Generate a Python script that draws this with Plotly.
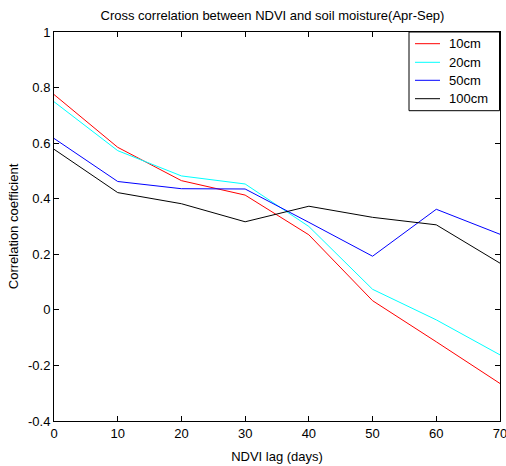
import plotly.graph_objects as go

# NDVI lag in days
lag_days = [0, 10, 20, 30, 40, 50, 60, 70]

# Cross-correlation coefficients per soil depth
corr_10cm = [0.775, 0.585, 0.465, 0.413, 0.27, 0.033, -0.115, -0.265]
corr_20cm = [0.749, 0.573, 0.482, 0.453, 0.30, 0.074, -0.036, -0.162]
corr_50cm = [0.617, 0.462, 0.436, 0.435, 0.315, 0.193, 0.362, 0.272]
corr_100cm = [0.578, 0.422, 0.382, 0.317, 0.373, 0.333, 0.306, 0.168]

series_names = ["10cm", "20cm", "50cm", "100cm"]
series_colors = ["#ff0000", "#00ffff", "#0000ff", "#000000"]
series_values = [corr_10cm, corr_20cm, corr_50cm, corr_100cm]

x_ticks = [0, 10, 20, 30, 40, 50, 60, 70]
y_ticks = [-0.4, -0.2, 0, 0.2, 0.4, 0.6, 0.8, 1]
y_tick_text = ["-0.4", "-0.2", "0", "0.2", "0.4", "0.6", "0.8", "1"]

font_family = "Liberation Sans, Arial, sans-serif"
font_size = 13

W, H = 506, 466
M_L, M_R, M_T, M_B = 54, 6, 32, 45
PW, PH = W - M_L - M_R, H - M_T - M_B


def px_x(px):
    """Pixel column -> paper x."""
    return (px - M_L) / PW


def px_y(py):
    """Pixel row -> paper y."""
    return (H - M_B - py) / PH


fig = go.Figure()
for name, color, vals in zip(series_names, series_colors, series_values):
    fig.add_trace(go.Scatter(
        x=lag_days, y=vals, mode="lines", name=name,
        line=dict(color=color, width=1), showlegend=False,
    ))

axis_common = dict(
    showgrid=False, zeroline=False,
    showline=True, linecolor="#000000", linewidth=1, mirror="ticks",
    ticks="inside", ticklen=5, tickcolor="#000000", tickwidth=1,
    tickfont=dict(family=font_family, size=font_size, color="#000000"),
    ticklabeloverflow="allow", automargin=False,
)

# Boxed legend in the upper-right corner of the axes
legend_box = dict(x0=409, x1=499.5, y0=32, y1=110.7)
legend_rows = [43.7, 62.3, 80.3, 98.7]
shapes = [dict(
    type="rect", xref="paper", yref="paper",
    x0=px_x(legend_box["x0"]), x1=px_x(legend_box["x1"]),
    y0=px_y(legend_box["y1"]), y1=px_y(legend_box["y0"]),
    line=dict(color="#000000", width=1), fillcolor="#ffffff", layer="above",
)]
annotations = []
for name, color, row in zip(series_names, series_colors, legend_rows):
    shapes.append(dict(
        type="line", xref="paper", yref="paper",
        x0=px_x(415), x1=px_x(440), y0=px_y(row), y1=px_y(row),
        line=dict(color=color, width=1), layer="above",
    ))
    annotations.append(dict(
        text=name, xref="paper", yref="paper",
        x=px_x(447), y=px_y(row), xanchor="left", yanchor="middle",
        showarrow=False,
        font=dict(family=font_family, size=font_size, color="#000000"),
    ))

fig.update_layout(
    width=W, height=H,
    margin=dict(l=M_L, r=M_R, t=M_T, b=M_B, autoexpand=False),
    paper_bgcolor="#ffffff", plot_bgcolor="#ffffff",
    font=dict(family=font_family, size=font_size, color="#000000"),
    title=dict(
        text="Cross correlation between NDVI and soil moisture(Apr-Sep)",
        x=0.5385, xanchor="center", y=1 - 15 / H, yanchor="middle",
        font=dict(family=font_family, size=font_size, color="#000000"),
    ),
    xaxis=dict(
        range=[0, 70], tickvals=x_ticks,
        title=dict(text="NDVI lag (days)", standoff=12,
                   font=dict(family=font_family, size=font_size)),
        **axis_common,
    ),
    yaxis=dict(
        range=[-0.4, 1], tickvals=y_ticks, ticktext=y_tick_text,
        title=dict(text="Correlation coefficient", standoff=6,
                   font=dict(family=font_family, size=font_size)),
        **axis_common,
    ),
    shapes=shapes,
    annotations=annotations,
    showlegend=False,
)

fig.write_html("out.html")
